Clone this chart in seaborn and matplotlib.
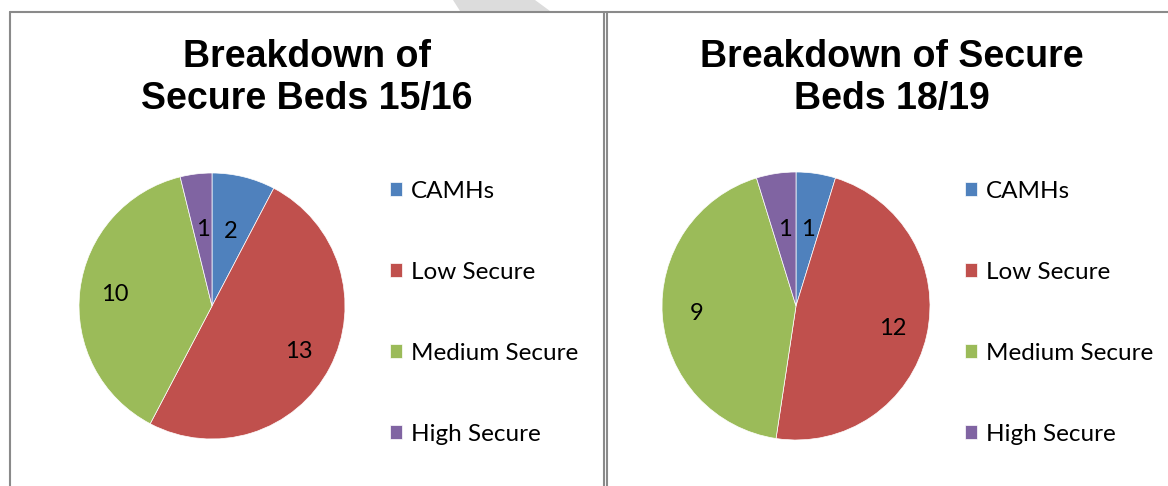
import matplotlib
matplotlib.use("Agg")
import matplotlib.pyplot as plt
import seaborn as sns
from matplotlib.patches import Polygon
from matplotlib.lines import Line2D

# data
categories = ["CAMHs", "Low Secure", "Medium Secure", "High Secure"]
beds_1516 = [2, 13, 10, 1]
labels_1516 = ["2", "13", "10", "1"]
# slice sizes as drawn in the original chart (its "12" label does not match the wedge)
beds_1819 = [1, 10, 9, 1]
labels_1819 = ["1", "12", "9", "1"]
titles = ["Breakdown of\nSecure Beds 15/16", "Breakdown of Secure\nBeds 18/19"]

sns.set_theme(style="white")
colors = sns.color_palette(["#4F81BD", "#C0504D", "#9BBB59", "#8064A2"])

W, H = 1168, 486
fig = plt.figure(figsize=(W / 100, H / 100), dpi=100)
fig.patch.set_facecolor("white")


def px_axes(cx, cy, r):
    return fig.add_axes([(cx - r) / W, 1 - (cy + r) / H, 2 * r / W, 2 * r / H])


# faint watermark remnant at the top
fig.add_artist(Polygon([(453 / W, 1.0), (535 / W, 1.0), (550 / W, 1 - 11 / H), (460 / W, 1 - 11 / H)],
                       closed=True, transform=fig.transFigure, facecolor="#dcdcdc",
                       edgecolor="none", zorder=0))

# panel borders
border = dict(color="#8a8a8a", lw=1.5, transform=fig.transFigure, zorder=1)
fig.add_artist(Line2D([10 / W, 1], [1 - 12 / H, 1 - 12 / H], **border))
fig.add_artist(Line2D([10 / W, 10 / W], [0, 1 - 12 / H], **border))
fig.add_artist(Line2D([604 / W, 604 / W], [0, 1 - 12 / H], **border))
fig.add_artist(Line2D([607 / W, 607 / W], [0, 1 - 12 / H], **border))

panels = [
    (beds_1516, labels_1516, 212, 306, 133, 307, 390),
    (beds_1819, labels_1819, 796, 306, 134, 892, 965),
]

for i, (vals, labs, cx, cy, r, tx, lx) in enumerate(panels):
    ax = px_axes(cx, cy, r)
    wedges, texts = ax.pie(
        vals, colors=colors, startangle=90, counterclock=False,
        labels=labs, labeldistance=0.74,
        wedgeprops=dict(edgecolor="white", linewidth=0.5),
        textprops=dict(fontsize=17, family="Lato", color="black"),
    )
    total = sum(vals)
    for v, t in zip(vals, texts):
        t.set_ha("center")
        t.set_va("center")
        # narrow slices get their label pulled in, like Excel's best fit
        if v / total < 0.1:
            x, y = t.get_position()
            t.set_position((x * 0.78, y * 0.78))
    ax.set_xlim(-1, 1)
    ax.set_ylim(-1, 1)

    fig.text(tx / W, 1 - 39 / H, titles[i], ha="center", va="top",
             fontsize=27, fontweight="bold", family="Liberation Sans",
             linespacing=1.2, color="black")

    fig.legend(wedges, categories, loc="center left",
               bbox_to_anchor=(lx / W, 1 - 313 / H), frameon=False,
               prop=dict(family="Lato", size=17.5), labelcolor="black",
               handlelength=0.5, handleheight=0.5, handletextpad=0.37,
               labelspacing=2.47, borderpad=0, borderaxespad=0)

fig.savefig("out.png", dpi=100, facecolor="white")
